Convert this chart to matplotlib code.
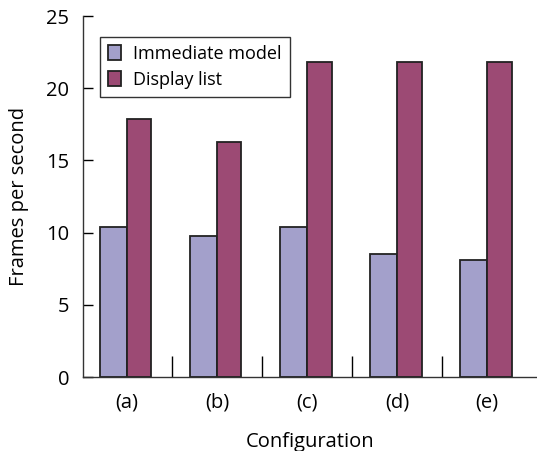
import matplotlib.pyplot as plt
import numpy as np

# Data
configs = ['(a)', '(b)', '(c)', '(d)', '(e)']
immediate = [10.4, 9.8, 10.4, 8.5, 8.1]
display_list = [17.9, 16.3, 21.8, 21.8, 21.8]

plt.rcParams['font.family'] = ['Open Sans', 'DejaVu Sans']

fig = plt.figure(figsize=(5.37, 4.51), dpi=100)
ax = fig.add_axes([0.1546, 0.164, 0.845, 0.8005])

x = np.arange(len(configs))
ax.bar(x, immediate, width=-0.3, align='edge', color='#A3A0CB',
       edgecolor='#222222', linewidth=1.3, label='Immediate model')
ax.bar(x, display_list, width=0.27, align='edge', color='#9C4A74',
       edgecolor='#222222', linewidth=1.3, label='Display list')

ax.set_xlim(-0.49, 4.55)
ax.set_ylim(0, 25)
ax.set_yticks([0, 5, 10, 15, 20, 25])
ax.set_xticks(x)
ax.set_xticklabels(configs)
ax.set_xticks(x[:-1] + 0.5, minor=True)

ax.tick_params(axis='y', direction='in', length=7, width=1, labelsize=14.5, pad=10)
ax.tick_params(axis='x', which='major', length=0, labelsize=14.5, pad=11)
ax.tick_params(axis='x', which='minor', direction='in', length=15, width=1)

for side in ['top', 'right']:
    ax.spines[side].set_visible(False)
for side in ['left', 'bottom']:
    ax.spines[side].set_linewidth(1)
    ax.spines[side].set_color('#333333')

ax.set_xlabel('Configuration', fontsize=14.5, labelpad=14)
ax.set_ylabel('Frames per second', fontsize=14.5, labelpad=12)

leg = ax.legend(loc='upper left', bbox_to_anchor=(0.037, 0.942), fontsize=13,
                frameon=True, fancybox=False, edgecolor='black',
                handlelength=0.7, handleheight=0.9, handletextpad=0.7,
                borderpad=0.45, labelspacing=0.45, borderaxespad=0)
leg.get_frame().set_linewidth(1)

plt.savefig('out.png', dpi=100)
